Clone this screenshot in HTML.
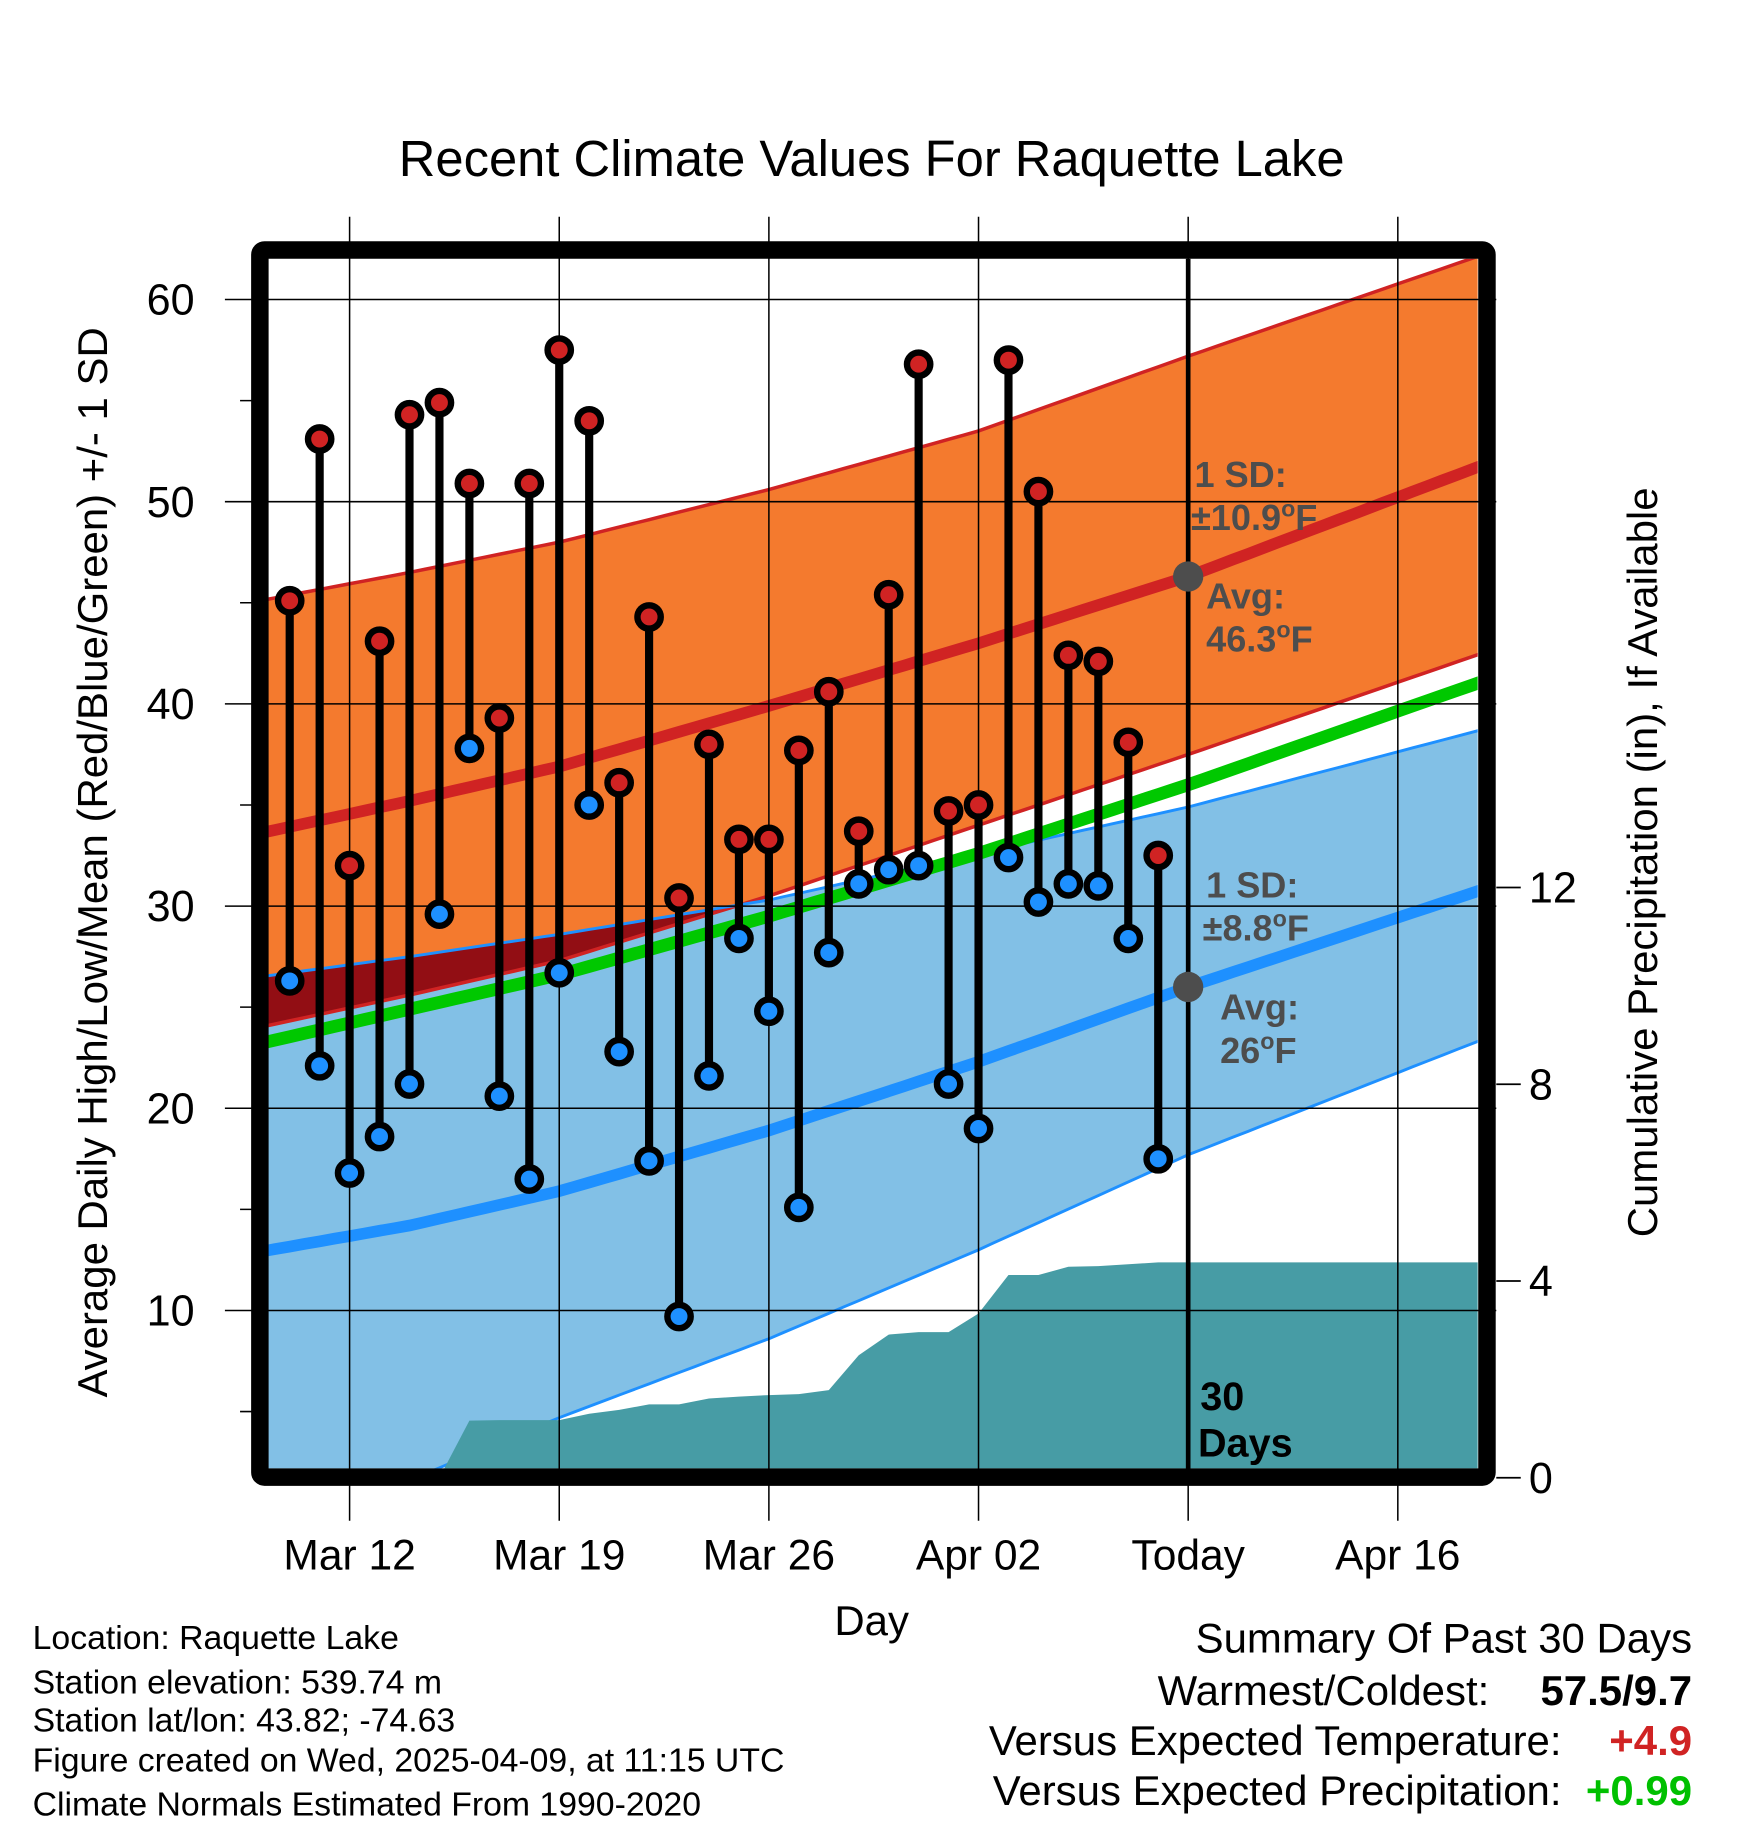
<!DOCTYPE html>
<html><head><meta charset="utf-8"><style>
html,body{margin:0;padding:0;background:#fff;}
svg{display:block;}
text{font-family:"Liberation Sans",Arial,sans-serif;}
</style></head><body>
<svg id="chart" width="1748" height="1828" viewBox="0 0 1500 1568.6" preserveAspectRatio="none" xmlns="http://www.w3.org/2000/svg">
<defs><clipPath id="plotclip"><rect x="230" y="222" width="1038" height="1038"/></clipPath></defs>
<g id="bands" clip-path="url(#plotclip)"></g>
<g id="grid"></g>
<g id="marks"></g>
<g id="axes"></g>
</svg>
<script>
// ----- data -----
const dayLabels = ["Mar 12","Mar 19","Mar 26","Apr 02","Today","Apr 16"];
const dayTickIdx = [2,9,16,23,30,37];
const highs = [45.1,53.1,32.0,43.1,54.3,54.9,50.9,39.3,50.9,57.5,54.0,36.1,44.3,30.4,38.0,33.3,33.3,37.7,40.6,33.7,45.4,56.8,34.7,35.0,57.0,50.5,42.4,42.1,38.1,32.5];
const lows = [26.3,22.1,16.8,18.6,21.2,29.6,37.8,20.6,16.5,26.7,35.0,22.8,17.4,9.7,21.6,28.4,24.8,15.1,27.7,31.1,31.8,32.0,21.2,19.0,32.4,30.2,31.1,31.0,28.4,17.5];
const precip = [0,0,0,0,0,0,1.16,1.17,1.17,1.17,1.3,1.38,1.49,1.49,1.61,1.65,1.68,1.70,1.78,2.49,2.91,2.96,2.96,3.34,4.12,4.12,4.29,4.30,4.34,4.38];
const normDays = [-1,4,9,16,23,30,40];
const highMean = [33.6,35.2,36.9,39.9,43.0,46.3,51.9];
const highUpper = [45.1,46.5,48.0,50.6,53.5,57.2,62.3];
const highLower = [24.0,25.6,27.3,30.5,34.0,37.5,42.6];
const avgMean = [23.2,24.9,26.6,29.5,32.6,36.0,41.2];
const lowMean = [12.9,14.2,15.9,18.9,22.3,26.0,30.9];
const lowUpper = [26.5,27.5,28.6,30.3,32.6,34.9,38.8];
const lowLower = [-1.5,1.6,4.7,8.6,13.0,17.7,23.5];
const yTicks = [10,20,30,40,50,60];
const pTicks = [0,4,8,12];

// ----- scales -----
const X = d => 248.6 + 25.7*d;
const Y = v => 257 + (60 - v)*17.35;
const P = p => 1268 - p*42.2;
const NS = "http://www.w3.org/2000/svg";
function mk(parent, tag, attrs){const e=document.createElementNS(NS,tag);for(const k in attrs)e.setAttribute(k,attrs[k]);parent.appendChild(e);return e;}
const bands=document.getElementById('bands'),grid=document.getElementById('grid'),marks=document.getElementById('marks'),axes=document.getElementById('axes');

function interp(arr,d){for(let i=0;i<normDays.length-1;i++){if(d<=normDays[i+1]){const t=(d-normDays[i])/(normDays[i+1]-normDays[i]);return arr[i]+t*(arr[i+1]-arr[i]);}}return arr[arr.length-1];}
const S=[];for(let d=-1;d<=40;d+=0.5)S.push(d);
const line=(arr)=>S.map(d=>X(d).toFixed(1)+","+Y(interp(arr,d)).toFixed(1)).join(" ");
const band=(up,lo)=>S.map(d=>X(d).toFixed(1)+","+Y(interp(up,d)).toFixed(1)).concat(S.slice().reverse().map(d=>X(d).toFixed(1)+","+Y(interp(lo,d)).toFixed(1))).join(" ");

let e;
e=mk(bands,'polygon',{points:band(highUpper,highLower),fill:'#f47a2e'});

e=mk(bands,'polygon',{points:band(lowUpper,lowLower),fill:'#82c0e6'});

const ov=S.map(d=>X(d).toFixed(1)+","+Y(interp(lowUpper,d)).toFixed(1)).concat(S.slice().reverse().map(d=>X(d).toFixed(1)+","+Y(Math.min(interp(highLower,d),interp(lowUpper,d))).toFixed(1))).join(" ");
e=mk(bands,'polygon',{points:ov,fill:'#920e14'});

e=mk(bands,'polyline',{points:line(highUpper),fill:'none',stroke:'#d02323','stroke-width':3});

e=mk(bands,'polyline',{points:line(highLower),fill:'none',stroke:'#d02323','stroke-width':3});

e=mk(bands,'polyline',{points:line(lowUpper),fill:'none',stroke:'#1e90ff','stroke-width':2.5});

e=mk(bands,'polyline',{points:line(lowLower),fill:'none',stroke:'#1e90ff','stroke-width':2.5});

e=mk(bands,'polyline',{points:line(avgMean),fill:'none',stroke:'#00c800','stroke-width':11});

e=mk(bands,'polyline',{points:line(highMean),fill:'none',stroke:'#d02323','stroke-width':10});

e=mk(bands,'polyline',{points:line(lowMean),fill:'none',stroke:'#1e90ff','stroke-width':10});

let pp=[X(-1)+","+1270];precip.forEach((p,i)=>pp.push(X(i).toFixed(1)+","+P(p).toFixed(1)));
pp.push("1270,"+P(precip[precip.length-1]).toFixed(1));pp.push("1270,1270");
e=mk(bands,'polygon',{points:pp.join(" "),fill:'#479ca5'});


// grid
dayTickIdx.forEach(d=>{const g=mk(grid,'line',{x1:X(d),x2:X(d),y1:186,y2:1305,stroke:'#000','stroke-width':1.3});
});
yTicks.forEach(v=>{const g=mk(grid,'line',{x1:193,x2:1284,y1:Y(v),y2:Y(v),stroke:'#000','stroke-width':1.3});
});
[5,15,25,35,45,55].forEach(v=>{const g=mk(grid,'line',{x1:206,x2:220,y1:Y(v),y2:Y(v),stroke:'#000','stroke-width':1.3});
});
e=mk(grid,'line',{x1:X(30),x2:X(30),y1:222,y2:1262,stroke:'#000','stroke-width':4});


// stems & dots
highs.forEach((h,i)=>{
 const s=mk(marks,'line',{x1:X(i),x2:X(i),y1:Y(h),y2:Y(lows[i]),stroke:'#000','stroke-width':7});
 
});
highs.forEach((h,i)=>{
 const a=mk(marks,'circle',{cx:X(i),cy:Y(h),r:10,fill:'#d02323',stroke:'#000','stroke-width':5.5});
 
 const b=mk(marks,'circle',{cx:X(i),cy:Y(lows[i]),r:10,fill:'#1e90ff',stroke:'#000','stroke-width':5.5});
 
});
e=mk(marks,'circle',{cx:X(30),cy:Y(interp(highMean,30)),r:13,fill:'#4d4d4d'});

e=mk(marks,'circle',{cx:X(30),cy:Y(interp(lowMean,30)),r:13,fill:'#4d4d4d'});


function txt(parent,x,y,s,attrs,name){const t=mk(parent,'text',Object.assign({x:x,y:y},attrs));t.textContent=s;return t;}
function deg(parent,x,y,pre,attrs,name){const t=mk(parent,'text',Object.assign({x:x,y:y},attrs));
 t.appendChild(document.createTextNode(pre));const s=document.createElementNS(NS,'tspan');s.setAttribute('dy','-12');s.setAttribute('font-size','20');s.textContent='o';t.appendChild(s);
 const f=document.createElementNS(NS,'tspan');f.setAttribute('dy','12');f.textContent='F';t.appendChild(f);return t;}
const ann={fill:'#4d4d4d','font-weight':'bold','font-size':31};
txt(marks,1025,418,"1 SD:",ann,'high-sd-label');
deg(marks,1022,455,"±10.9",ann,'high-sd-value');
txt(marks,1035,522,"Avg:",ann,'high-avg-label');
deg(marks,1035,559,"46.3",ann,'high-avg-value');
txt(marks,1035,770,"1 SD:",ann,'low-sd-label');
deg(marks,1032,807,"±8.8",ann,'low-sd-value');
txt(marks,1047,875,"Avg:",ann,'low-avg-label');
deg(marks,1047,912,"26",ann,'low-avg-value');
txt(marks,1030,1210,"30",{fill:'#000','font-weight':'bold','font-size':34},'days-label');
txt(marks,1028,1250,"Days",{fill:'#000','font-weight':'bold','font-size':34},'days-label-2');

e=mk(axes,'rect',{x:223,y:214.5,width:1053,height:1053,fill:'none',stroke:'#000','stroke-width':15,rx:4});

pTicks.forEach(p=>{const t=mk(axes,'line',{x1:1284,x2:1305,y1:P(p),y2:P(p),stroke:'#000','stroke-width':1.5});

txt(axes,1312,P(p)+13,String(p),{'font-size':37,fill:'#000'},'precip-tick-label');});
yTicks.forEach(v=>{txt(axes,167,Y(v)+13,String(v),{'font-size':37,fill:'#000','text-anchor':'end'},'y-tick-label');});
dayLabels.forEach((l,i)=>{txt(axes,X(dayTickIdx[i]),1347,l,{'font-size':36.5,fill:'#000','text-anchor':'middle'},'x-tick-label');});
txt(axes,748,1403,"Day",{'font-size':36,fill:'#000','text-anchor':'middle'},'x-axis-title');
txt(axes,748,151,"Recent Climate Values For Raquette Lake",{'font-size':43.5,fill:'#000','text-anchor':'middle'},'chart-title');
txt(axes,0,0,"Average Daily High/Low/Mean (Red/Blue/Green) +/- 1 SD",{'font-size':36,fill:'#000','text-anchor':'middle',transform:'translate(92,740) rotate(-90)'},'y-axis-title');
txt(axes,0,0,"Cumulative Precipitation (in), If Available",{'font-size':36,fill:'#000','text-anchor':'middle',transform:'translate(1422,740) rotate(-90)'},'y2-axis-title');
const foot=["Location: Raquette Lake","Station elevation: 539.74 m","Station lat/lon: 43.82; -74.63","Figure created on Wed, 2025-04-09, at 11:15 UTC","Climate Normals Estimated From 1990-2020"];
[1415,1453,1486,1520,1558].forEach((y,i)=>txt(axes,28,y,foot[i],{'font-size':29,fill:'#000'},'footer-info-line'));
txt(axes,1452,1418,"Summary Of Past 30 Days",{'font-size':36,fill:'#000','text-anchor':'end'},'summary-title');
txt(axes,1278,1463,"Warmest/Coldest:",{'font-size':36,fill:'#000','text-anchor':'end'},'warmest-coldest-label');
txt(axes,1452,1463,"57.5/9.7",{'font-size':36,fill:'#000','font-weight':'bold','text-anchor':'end'},'warmest-coldest-value');
txt(axes,1340,1506,"Versus Expected Temperature:",{'font-size':36,fill:'#000','text-anchor':'end'},'temp-anomaly-label');
txt(axes,1452,1506,"+4.9",{'font-size':36,fill:'#d02323','font-weight':'bold','text-anchor':'end'},'temp-anomaly-value');
txt(axes,1340,1549,"Versus Expected Precipitation:",{'font-size':36,fill:'#000','text-anchor':'end'},'precip-anomaly-label');
txt(axes,1452,1549,"+0.99",{'font-size':36,fill:'#00c000','font-weight':'bold','text-anchor':'end'},'precip-anomaly-value');
</script>
</body></html>
